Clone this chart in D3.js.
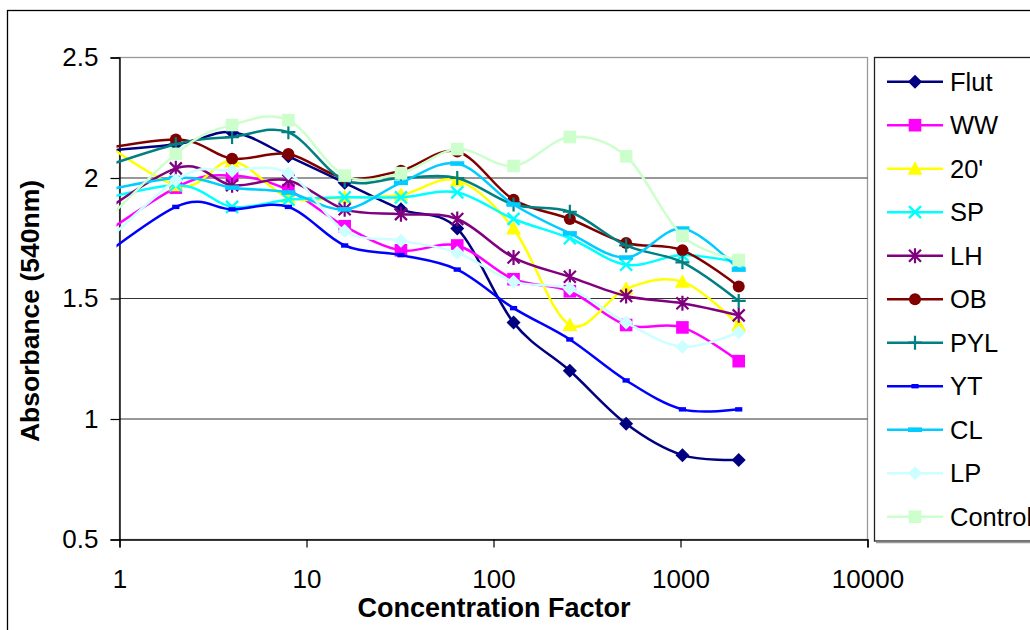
<!DOCTYPE html>
<html>
<head>
<meta charset="utf-8">
<script src="https://cdn.jsdelivr.net/npm/d3@7/dist/d3.min.js"></script>
<style>
  html, body { margin: 0; padding: 0; background: #fff; }
  svg { display: block; font-family: "Liberation Sans", Arial, sans-serif; }
</style>
</head>
<body>
<svg id="chart" width="1030" height="630"></svg>
<script>
// ---- data ----
const concentration = [0.5, 2, 4, 8, 16, 32, 64, 128, 256, 512, 1024, 2048];
const seriesNames = ["Flut", "WW", "20'", "SP", "LH", "OB", "PYL", "YT", "CL", "LP", "Control"];
const flut    = [2.10, 2.14, 2.19, 2.09, 1.98, 1.87, 1.79, 1.40, 1.20, 0.98, 0.85, 0.83];
const ww      = [1.65, 1.96, 2.01, 1.95, 1.80, 1.70, 1.72, 1.58, 1.53, 1.39, 1.38, 1.24];
const twenty  = [2.27, 1.97, 2.07, 1.92, 1.92, 1.93, 1.99, 1.79, 1.39, 1.54, 1.57, 1.39];
const sp      = [1.87, 1.97, 1.88, 1.91, 1.92, 1.92, 1.94, 1.83, 1.75, 1.64, 1.68, 1.65];
const lh      = [1.74, 2.04, 1.97, 1.99, 1.87, 1.85, 1.83, 1.67, 1.59, 1.51, 1.48, 1.43];
const ob      = [2.09, 2.16, 2.08, 2.10, 2.00, 2.03, 2.11, 1.91, 1.83, 1.73, 1.70, 1.55];
const pyl     = [1.99, 2.14, 2.17, 2.19, 1.99, 2.00, 2.00, 1.89, 1.86, 1.72, 1.65, 1.49];
const yt      = [1.55, 1.88, 1.87, 1.88, 1.72, 1.68, 1.62, 1.46, 1.33, 1.16, 1.04, 1.04];
const cl      = [1.91, 2.00, 1.96, 1.94, 1.87, 1.98, 2.06, 1.89, 1.77, 1.67, 1.79, 1.62];
const lp      = [1.56, 1.99, 2.03, 2.02, 1.78, 1.74, 1.69, 1.57, 1.54, 1.40, 1.30, 1.36];
const control = [1.64, 2.10, 2.22, 2.24, 2.01, 2.02, 2.12, 2.05, 2.17, 2.09, 1.76, 1.66];
const xTicks = [1, 10, 100, 1000, 10000];
const yTicks = [0.5, 1, 1.5, 2, 2.5];
const gridValues = [1, 1.5, 2];

const seriesValues = [flut, ww, twenty, sp, lh, ob, pyl, yt, cl, lp, control];
const colors  = ["#000080", "#FF00FF", "#FFFF00", "#00FFFF", "#800080", "#800000", "#008080", "#0000FF", "#00CCFF", "#CCFFFF", "#CCFFCC"];
const markers = ["diamond", "square", "triangle", "x", "star", "circle", "plus", "shortdash", "longdash", "diamond", "square"];

// ---- layout ----
const svg = d3.select("#chart");
const plot = { left: 119.5, right: 867.5, top: 57.5, bottom: 539.5 };

const x = d3.scaleLog().domain([1, 10000]).range([plot.left, plot.right]);
const y = d3.scaleLinear().domain([0.5, 2.5]).range([plot.bottom, plot.top]);

// outer frame
svg.append("rect").attr("x", 7.5).attr("y", 10.5).attr("width", 1100).attr("height", 700)
  .attr("fill", "none").attr("stroke", "#000").attr("stroke-width", 1.3);

// plot area border (gray)
svg.append("rect").attr("x", plot.left).attr("y", plot.top)
  .attr("width", plot.right - plot.left).attr("height", plot.bottom - plot.top)
  .attr("fill", "#fff").attr("stroke", "#999").attr("stroke-width", 1.3);

// gridlines
svg.append("g").selectAll("line").data(gridValues).join("line")
  .attr("x1", plot.left).attr("x2", plot.right)
  .attr("y1", d => y(d)).attr("y2", d => y(d))
  .attr("stroke", "#333").attr("stroke-width", 1.2);

// axes
const yAxis = d3.axisLeft(y).tickValues(yTicks).tickSize(9).tickPadding(12)
  .tickFormat(d => String(d));
const xAxis = d3.axisBottom(x).tickValues(xTicks).tickSize(8).tickPadding(22)
  .tickFormat(d => String(d));

const gy = svg.append("g").attr("transform", `translate(${plot.left},0)`).call(yAxis);
const gx = svg.append("g").attr("transform", `translate(0,${plot.bottom})`).call(xAxis);
[gx, gy].forEach(g => {
  g.select(".domain").attr("stroke", "#000").attr("stroke-width", 1.4);
  g.selectAll(".tick line").attr("stroke", "#000").attr("stroke-width", 1.2);
  g.selectAll(".tick text").attr("fill", "#000").attr("font-size", 26)
    .attr("font-family", "'Liberation Sans', Arial, sans-serif");
});

// axis titles
svg.append("text").attr("x", 494).attr("y", 617).attr("text-anchor", "middle")
  .attr("font-size", 27).attr("font-weight", "bold").text("Concentration Factor");
svg.append("text").attr("transform", "translate(39,311) rotate(-90)").attr("text-anchor", "middle")
  .attr("font-size", 26.5).attr("font-weight", "bold").text("Absorbance (540nm)");

// clip
svg.append("defs").append("clipPath").attr("id", "plotclip").append("rect")
  .attr("x", plot.left - 3).attr("y", plot.top).attr("width", plot.right - plot.left + 3)
  .attr("height", plot.bottom - plot.top);

// marker drawing
function drawMarker(g, type, color) {
  const s = 7;
  switch (type) {
    case "diamond":
      g.append("path").attr("d", `M0,${-s}L${s},0L0,${s}L${-s},0Z`).attr("fill", color); break;
    case "square":
      g.append("rect").attr("x", -6.3).attr("y", -6.3).attr("width", 12.6).attr("height", 12.6).attr("fill", color); break;
    case "triangle":
      g.append("path").attr("d", "M0,-7.5L7.5,6L-7.5,6Z").attr("fill", color); break;
    case "x":
      g.append("path").attr("d", "M-6,-6L6,6M-6,6L6,-6").attr("stroke", color).attr("stroke-width", 2.4).attr("fill", "none"); break;
    case "star":
      g.append("path").attr("d", "M-6,-6L6,6M-6,6L6,-6M0,-7.5L0,7.5").attr("stroke", color).attr("stroke-width", 2.2).attr("fill", "none"); break;
    case "circle":
      g.append("circle").attr("r", 6).attr("fill", color); break;
    case "plus":
      g.append("path").attr("d", "M0,-7L0,7M-7,0L7,0").attr("stroke", color).attr("stroke-width", 2.2).attr("fill", "none"); break;
    case "shortdash":
      g.append("rect").attr("x", -3.6).attr("y", -2.2).attr("width", 7.2).attr("height", 4.4).attr("fill", color); break;
    case "longdash":
      g.append("rect").attr("x", -7).attr("y", -2.3).attr("width", 14).attr("height", 4.6).attr("fill", color); break;
  }
}

const line = d3.line().x(d => x(d[0])).y(d => y(d[1])).curve(d3.curveCatmullRom.alpha(0));

const plotG = svg.append("g").attr("clip-path", "url(#plotclip)");
seriesValues.forEach((vals, i) => {
  const pts = concentration.map((c, j) => [c, vals[j]]);
  const sg = plotG.append("g");
  sg.append("path").datum(pts).attr("d", line).attr("fill", "none")
    .attr("stroke", colors[i]).attr("stroke-width", 2.5);
  pts.forEach(p => {
    const mg = sg.append("g").attr("transform", `translate(${x(p[0])},${y(p[1])})`);
    drawMarker(mg, markers[i], colors[i]);
  });
});

// legend
const legend = svg.append("g");
legend.append("rect").attr("x", 874.5).attr("y", 57.5).attr("width", 300).attr("height", 483.5)
  .attr("fill", "#fff").attr("stroke", "#222").attr("stroke-width", 1.3);
legend.append("line").attr("x1", 876).attr("x2", 1030).attr("y1", 542.5).attr("y2", 542.5)
  .attr("stroke", "#999").attr("stroke-width", 1.5);
seriesNames.forEach((name, i) => {
  const cy = 81.7 + i * 43.5;
  const lg = legend.append("g").attr("transform", `translate(0,${cy})`);
  lg.append("line").attr("x1", 887).attr("x2", 943).attr("y1", 0).attr("y2", 0)
    .attr("stroke", colors[i]).attr("stroke-width", 2.5);
  const mg = lg.append("g").attr("transform", "translate(915,0)");
  drawMarker(mg, markers[i], colors[i]);
  lg.append("text").attr("x", 950).attr("y", 9).attr("font-size", 25.5).attr("fill", "#000").text(name);
});
</script>
</body>
</html>
